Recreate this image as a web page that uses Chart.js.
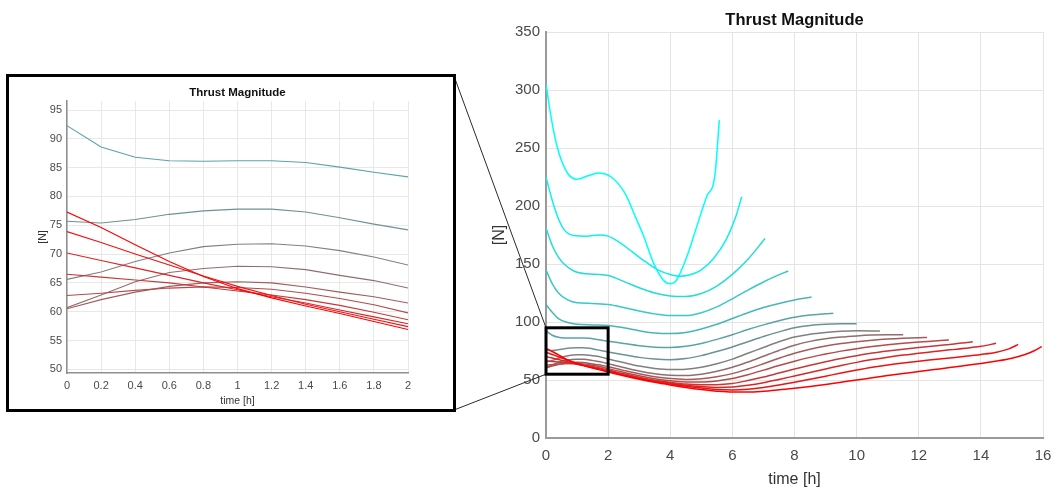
<!DOCTYPE html>
<html>
<head>
<meta charset="utf-8">
<title>Thrust Magnitude</title>
<script src="https://cdn.jsdelivr.net/npm/chart.js@4.4.1/dist/chart.umd.min.js"></script>
<style>
  html, body { margin: 0; padding: 0; background: #fff; overflow: hidden; }
  #main { position: absolute; left: 0; top: 0; }
  #insetBox { position: absolute; left: 6px; top: 74px; width: 450px; height: 338px;
              border: 3px solid #000; box-sizing: border-box; background: #fff; }
  #inset { position: absolute; left: 0; top: 0; }
</style>
</head>
<body>
<canvas id="main" width="1061" height="493"></canvas>
<div id="insetBox"><canvas id="inset" width="444" height="332"></canvas></div>
<script>
// Thrust history of each transfer, [time h, thrust N]
const thrust01 = [[0,305],[0.18,274],[0.39,248],[0.7,228],[1.0,223],[1.35,226],[1.67,228.5],[2.1,225],[2.54,211],[2.92,188],[3.13,175],[3.46,151],[3.78,136],[3.99,133],[4.2,136],[4.53,156],[4.85,182],[5.17,208],[5.44,227],[5.58,274]];
const thrust02 = [[0,225],[0.2,205],[0.4,189],[0.6,179],[0.9,174.5],[1.3,174],[1.7,175],[2.0,174],[2.4,168],[2.8,160],[3.2,152],[3.6,145],[4.0,141],[4.3,139.5],[4.6,140.5],[5.0,145],[5.4,155],[5.8,171],[6.1,190],[6.3,208]];
const thrust03 = [[0,181],[0.2,166],[0.4,156],[0.6,149.5],[0.9,144],[1.3,141.5],[1.7,141],[2.0,140],[2.5,135],[3.0,129.5],[3.5,125],[4.0,122.5],[4.5,122],[5.0,124.5],[5.5,131],[6.0,141],[6.5,154],[7.05,172]];
const thrust04 = [[0,145],[0.2,133],[0.4,125],[0.7,119],[1.0,116.5],[1.5,116],[2.0,115],[2.5,112.5],[3.0,109.5],[3.5,107],[4.0,105.5],[4.5,105.5],[5.0,108],[5.5,113],[6.0,120],[6.5,127.5],[7.0,134.5],[7.4,139.5],[7.8,144]];
const thrust05 = [[0,115],[0.2,108.5],[0.4,103],[0.7,99.5],[1.0,98],[1.5,97.5],[2.0,97],[2.5,95],[3.0,92.5],[3.5,90.5],[4.0,90],[4.5,91],[5.0,94],[5.5,98],[6.0,103],[6.5,108],[7.0,112.5],[7.5,116],[8.0,119],[8.55,121.5]];
const thrust06 = [[0,92.3],[0.2,88.6],[0.4,86.8],[0.6,86.2],[0.8,86.1],[1.0,86.2],[1.2,86.2],[1.4,85.9],[1.6,85.1],[1.8,84.2],[2.0,83.4],[2.5,81.5],[3.0,79.5],[3.5,78.3],[4.0,78],[4.5,79],[5.0,81.5],[5.5,85],[6.0,89],[6.5,93.5],[7.0,97.5],[7.5,101],[8.0,104],[8.5,106],[9.0,107.2],[9.25,107.5]];
const thrust07 = [[0,75.7],[0.2,75.4],[0.4,76.0],[0.6,76.9],[0.8,77.5],[1.0,77.8],[1.2,77.8],[1.4,77.3],[1.6,76.3],[1.8,75.2],[2.0,74.2],[2.5,71.8],[3.0,69.5],[3.5,68],[4.0,67.5],[4.5,68.5],[5.0,71],[5.5,74.5],[6.0,78.5],[6.5,83],[7.0,87.5],[7.5,91.5],[8.0,95],[8.5,97],[9.0,98],[9.5,98.4],[10.0,98.5]];
const thrust08 = [[0,65.6],[0.2,66.9],[0.4,68.7],[0.6,70.2],[0.8,71.3],[1.0,71.7],[1.2,71.8],[1.4,71.4],[1.6,70.6],[1.8,69.5],[2.0,68.1],[2.5,65],[3.0,62],[3.5,60],[4.0,59],[4.5,59.3],[5.0,61],[5.5,64],[6.0,68],[6.5,73],[7.0,78],[7.5,83],[8.0,87],[8.5,89.5],[9.0,91],[9.5,92],[10.0,92.5],[10.75,92.2]];
const thrust09 = [[0,60.7],[0.2,62.9],[0.4,65.2],[0.6,66.8],[0.8,67.5],[1.0,67.9],[1.2,67.8],[1.4,67.3],[1.6,66.3],[1.8,65.4],[2.0,64.1],[2.5,60.8],[3.0,57.7],[3.5,55.3],[4.0,54],[4.5,53.8],[5.0,55],[5.5,57.5],[6.0,61],[6.5,65.5],[7.0,70.5],[7.5,75.5],[8.0,80],[8.5,83.3],[9.0,85.5],[9.5,87],[10.0,88],[10.5,88.7],[11.0,89],[11.5,89]];
const thrust10 = [[0,60.5],[0.2,62.1],[0.4,63.4],[0.6,64.4],[0.8,65.0],[1.0,65.2],[1.2,65.0],[1.4,64.3],[1.6,63.4],[1.8,62.6],[2.0,61.5],[2.5,58.3],[3.0,55.3],[3.5,52.8],[4.0,51.2],[4.5,50.5],[5.0,51],[5.5,52.8],[6.0,55.5],[6.5,59.5],[7.0,64],[7.5,68.7],[8.0,73],[8.5,76.5],[9.0,79.3],[9.5,81.4],[10.0,83],[10.5,84.3],[11.0,85.3],[11.5,86],[12.0,86.5],[12.27,86.7]];
const thrust11 = [[0,62.8],[0.2,63.2],[0.4,63.7],[0.6,64.1],[0.8,64.3],[1.0,64.2],[1.2,63.9],[1.4,63.2],[1.6,62.3],[1.8,61.2],[2.0,59.8],[2.5,56.6],[3.0,53.6],[3.5,51.1],[4.0,49.3],[4.5,48.3],[5.0,48.2],[5.5,49.2],[6.0,51.3],[6.5,54.6],[7.0,58.5],[7.5,62.5],[8.0,66.2],[8.5,69.5],[9.0,72.4],[9.5,74.9],[10.0,77],[10.5,78.8],[11.0,80.3],[11.5,81.6],[12.0,82.7],[12.5,83.6],[12.97,84.5]];
const thrust12 = [[0,66.5],[0.2,66.0],[0.4,65.5],[0.6,65.0],[0.8,64.3],[1.0,63.6],[1.2,62.9],[1.4,62.1],[1.6,61.1],[1.8,59.9],[2.0,58.6],[2.5,55.3],[3.0,52.3],[3.5,49.8],[4.0,48],[4.5,46.5],[5.0,46],[5.5,46],[6.0,47],[6.5,49.5],[7.0,52.5],[7.5,56],[8.0,59.5],[8.5,62.8],[9.0,65.8],[9.5,68.6],[10.0,71],[10.5,73.2],[11.0,75],[11.5,76.6],[12.0,78],[12.5,79.3],[13.0,80.7],[13.4,81.8],[13.74,83]];
const thrust13 = [[0,70.2],[0.2,68.9],[0.4,67.6],[0.6,66.3],[0.8,65.0],[1.0,63.8],[1.2,62.6],[1.4,61.5],[1.6,60.3],[1.8,59.1],[2.0,57.9],[2.5,54.6],[3.0,51.6],[3.5,49.2],[4.0,47.3],[4.5,45.5],[5.0,44.3],[5.5,43.6],[6.0,44],[6.5,45.5],[7.0,47.7],[7.5,50.5],[8.0,53.5],[8.5,56.5],[9.0,59.5],[9.5,62.5],[10.0,65.2],[10.5,67.6],[11.0,69.7],[11.5,71.5],[12.0,73],[12.5,74.5],[13.0,76],[13.5,77.3],[14.0,79],[14.49,81.6]];
const thrust14 = [[0,73.9],[0.2,72.0],[0.4,70.0],[0.6,68.1],[0.8,66.2],[1.0,64.4],[1.2,62.8],[1.4,61.3],[1.6,60.0],[1.8,58.7],[2.0,57.4],[2.5,54.2],[3.0,51.2],[3.5,48.6],[4.0,46.5],[4.5,44.6],[5.0,43],[5.5,41.8],[6.0,41.4],[6.5,42],[7.0,43.5],[7.5,45.6],[8.0,48],[8.5,50.6],[9.0,53.3],[9.5,56],[10.0,58.6],[10.5,61],[11.0,63],[11.5,64.7],[12.0,66.2],[12.5,67.6],[13.0,69],[13.5,70.4],[14.0,72],[14.5,74],[14.9,76.8],[15.2,80.7]];
const thrust15 = [[0,77.3],[0.2,74.6],[0.4,71.6],[0.6,68.7],[0.8,66.1],[1.0,64.0],[1.2,62.4],[1.4,61.0],[1.6,59.7],[1.8,58.3],[2.0,56.9],[2.5,53.7],[3.0,50.7],[3.5,48],[4.0,45.7],[4.5,43.6],[5.0,41.8],[5.5,40.4],[6.0,39.6],[6.5,39.6],[7.0,40.3],[7.5,41.5],[8.0,42.8],[8.5,44.4],[9.0,46.2],[9.5,48.1],[10.0,50],[10.5,51.9],[11.0,53.8],[11.5,55.6],[12.0,57.3],[12.5,59],[13.0,60.7],[13.5,62.5],[14.0,64.3],[14.5,66.3],[15.0,68.8],[15.4,71.8],[15.7,75],[15.96,78.7]];

// Axis ticks
const mainTimeTicks = [0, 2, 4, 6, 8, 10, 12, 14, 16];
const mainThrustTicks = [0, 50, 100, 150, 200, 250, 300, 350];
const insetTimeTicks = [0, 0.2, 0.4, 0.6, 0.8, 1, 1.2, 1.4, 1.6, 1.8, 2];
const insetThrustTicks = [50, 55, 60, 65, 70, 75, 80, 85, 90, 95];

// Window shown enlarged in the inset
const zoomTime = [0, 2];
const zoomThrust = [55, 95];

const series = [thrust01, thrust02, thrust03, thrust04, thrust05, thrust06, thrust07, thrust08,
                thrust09, thrust10, thrust11, thrust12, thrust13, thrust14, thrust15];

const FONT = "'Liberation Sans', Arial, Helvetica, sans-serif";

// cyan -> grey -> red across the family
function colorOf(i) {
  const f = i / (series.length - 1);
  const r = Math.round(255 * f), gb = Math.round(255 * (1 - f));
  return `rgb(${r},${gb},${gb})`;
}

function makeDatasets(width, smooth) {
  return series.map((pts, i) => ({
    data: pts.map(([t, n]) => ({ x: t, y: n })),
    borderColor: colorOf(i),
    borderWidth: width,
    pointRadius: 0,
    fill: false,
    tension: 0,
    cubicInterpolationMode: smooth ? 'monotone' : 'default',
    order: series.length - 1 - i
  }));
}

const setTicks = list => scale => { scale.ticks = list.map(v => ({ value: v })); };

// Zoom window and the two leader lines to the inset frame
const zoomGuide = {
  id: 'zoomGuide',
  afterDatasetsDraw(chart) {
    const { ctx, scales: { x, y } } = chart;
    const x0 = x.getPixelForValue(zoomTime[0]);
    const x1 = x.getPixelForValue(zoomTime[1]);
    const yTop = y.getPixelForValue(zoomThrust[1]);
    const yBot = y.getPixelForValue(zoomThrust[0]);
    ctx.save();
    ctx.strokeStyle = '#2a2a2a';
    ctx.lineWidth = 1;
    ctx.beginPath();
    ctx.moveTo(454, 76); ctx.lineTo(x0, yTop);
    ctx.moveTo(454, 410); ctx.lineTo(x0, yBot);
    ctx.stroke();
    ctx.strokeStyle = '#000';
    ctx.lineWidth = 3;
    ctx.strokeRect(x0, yTop, x1 - x0, yBot - yTop);
    ctx.restore();
  }
};

new Chart(document.getElementById('main'), {
  type: 'line',
  data: { datasets: makeDatasets(1.5, true) },
  plugins: [zoomGuide],
  options: {
    responsive: false,
    animation: false,
    devicePixelRatio: 1,
    layout: { padding: { left: 486, right: 18, top: 0, bottom: 0 } },
    plugins: {
      legend: { display: false },
      tooltip: { enabled: false },
      title: {
        display: true, text: 'Thrust Magnitude', fullSize: false, color: '#111',
        font: { family: FONT, size: 16.5, weight: 'bold', lineHeight: 1.2 },
        padding: { top: 10.1, bottom: 2.1 }
      }
    },
    scales: {
      x: {
        type: 'linear', min: 0, max: 16,
        afterBuildTicks: setTicks(mainTimeTicks),
        afterFit: s => { s.height = 55; },
        grid: { color: '#e4e4e4', lineWidth: 1, drawTicks: false },
        border: { display: true, color: '#9a9a9a', width: 2 },
        ticks: { color: '#4a4a4a', font: { family: FONT, size: 15, lineHeight: 1.2 }, padding: 9, maxRotation: 0, autoSkip: false },
        title: { display: true, text: 'time [h]', color: '#333', font: { family: FONT, size: 16, lineHeight: 1.2 }, padding: { top: 0, bottom: 3.4 } }
      },
      y: {
        type: 'linear', min: 0, max: 350,
        afterBuildTicks: setTicks(mainThrustTicks),
        afterFit: s => { s.width = 60; },
        grid: { color: '#e4e4e4', lineWidth: 1, drawTicks: false },
        border: { display: true, color: '#9a9a9a', width: 2 },
        ticks: { color: '#4a4a4a', font: { family: FONT, size: 15 }, padding: 6, autoSkip: false },
        title: { display: true, text: '[N]', color: '#333', font: { family: FONT, size: 16, lineHeight: 1.2 }, padding: { top: 4.4, bottom: 0 } }
      }
    }
  }
});

new Chart(document.getElementById('inset'), {
  type: 'line',
  data: { datasets: makeDatasets(1.1, false) },
  options: {
    responsive: false,
    animation: false,
    devicePixelRatio: 1,
    layout: { padding: { left: 0, right: 45, top: 0, bottom: 0 } },
    plugins: {
      legend: { display: false },
      tooltip: { enabled: false },
      title: {
        display: true, text: 'Thrust Magnitude', fullSize: false, color: '#111',
        font: { family: FONT, size: 11.5, weight: 'bold', lineHeight: 1.2 },
        padding: { top: 9.1, bottom: 1.1 }
      }
    },
    scales: {
      x: {
        type: 'linear', min: 0, max: 2,
        afterBuildTicks: setTicks(insetTimeTicks),
        afterFit: s => { s.height = 36; },
        grid: { color: '#e8e8e8', lineWidth: 1, drawTicks: false },
        border: { display: true, color: '#8f8f8f', width: 1.5 },
        ticks: { color: '#4a4a4a', font: { family: FONT, size: 11 }, padding: 6, maxRotation: 0, autoSkip: false,
                 callback: v => String(+v.toFixed(1)) },
        title: { display: true, text: 'time [h]', color: '#333', font: { family: FONT, size: 10.5, lineHeight: 1.2 }, padding: { top: 0, bottom: 2 } }
      },
      y: {
        type: 'linear', min: 49.36, max: 96.57,
        afterBuildTicks: setTicks(insetThrustTicks),
        afterFit: s => { s.width = 58; },
        grid: { color: '#e8e8e8', lineWidth: 1, drawTicks: false },
        border: { display: true, color: '#8f8f8f', width: 1.5 },
        ticks: { color: '#4a4a4a', font: { family: FONT, size: 11 }, padding: 5, autoSkip: false },
        title: { display: true, text: '[N]', color: '#333', font: { family: FONT, size: 10.5, lineHeight: 1.2 }, padding: { top: 27.7, bottom: 0 } }
      }
    }
  }
});
</script>
</body>
</html>
